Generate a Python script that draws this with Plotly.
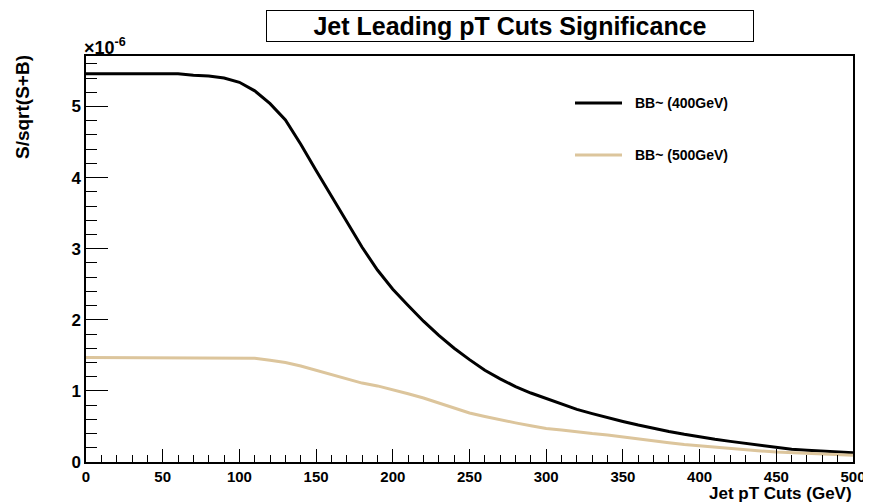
import plotly.graph_objects as go

# Jet pT cut values (GeV)
pt_cuts = [0, 10, 20, 30, 40, 50, 60, 70, 80, 90, 100, 110, 120, 130, 140, 150, 160, 170, 180, 190,
           200, 210, 220, 230, 240, 250, 260, 270, 280, 290, 300, 310, 320, 330, 340, 350, 360, 370,
           380, 390, 400, 410, 420, 430, 440, 450, 460, 470, 480, 490, 500]

# Significance S/sqrt(S+B) in units of 1e-6
sig_400 = [5.46, 5.46, 5.46, 5.46, 5.46, 5.46, 5.46, 5.44, 5.43, 5.40, 5.34, 5.22, 5.04, 4.81, 4.47,
           4.10, 3.74, 3.38, 3.02, 2.70, 2.43, 2.20, 1.98, 1.78, 1.60, 1.44, 1.29, 1.17, 1.06, 0.97,
           0.89, 0.81, 0.74, 0.68, 0.62, 0.57, 0.52, 0.47, 0.43, 0.39, 0.35, 0.32, 0.29, 0.26, 0.23,
           0.20, 0.18, 0.165, 0.15, 0.14, 0.13]
sig_500 = [1.47, 1.47, 1.47, 1.47, 1.47, 1.47, 1.47, 1.47, 1.47, 1.47, 1.47, 1.46, 1.43, 1.40, 1.35,
           1.29, 1.23, 1.17, 1.11, 1.07, 1.02, 0.96, 0.90, 0.83, 0.76, 0.69, 0.64, 0.59, 0.55, 0.51,
           0.47, 0.45, 0.42, 0.40, 0.38, 0.35, 0.32, 0.29, 0.27, 0.245, 0.225, 0.205, 0.19, 0.17,
           0.155, 0.14, 0.13, 0.12, 0.11, 0.10, 0.094]

series_names = ["BB~ (400GeV)", "BB~ (500GeV)"]
series_colors = ["#000000", "#dcc59c"]

x_ticks = [0, 50, 100, 150, 200, 250, 300, 350, 400, 450, 500]
y_ticks = [0, 1, 2, 3, 4, 5]

FONT = "Liberation Sans, Arial, sans-serif"
scale = 1e-6

# page body has an 8px margin, so the figure is shrunk and shifted to compensate
OFF = 8
W, H = 871 - OFF, 504 - OFF
ML, MR, MT, MB = 86 - OFF, 18, 56 - OFF, 42
PW, PH = W - ML - MR, H - MT - MB


def px_x(xpx):
    return (xpx - 86) / PW


def px_y(ypx):
    return (462 - ypx) / PH


fig = go.Figure()
for vals, name, col in zip([sig_400, sig_500], series_names, series_colors):
    fig.add_trace(go.Scatter(
        x=pt_cuts, y=[v * scale for v in vals], mode="lines", name=name,
        line=dict(color=col, width=3),
        showlegend=False,
    ))

fig.update_layout(
    width=W, height=H,
    margin=dict(l=ML, r=MR, t=MT, b=MB, autoexpand=False),
    paper_bgcolor="white", plot_bgcolor="white",
    font=dict(family=FONT, color="black"),
    xaxis=dict(
        range=[0, 500], tickvals=x_ticks, ticktext=[str(t) for t in x_ticks],
        ticks="inside", ticklen=13, tickwidth=1, tickcolor="black",
        minor=dict(dtick=10, ticks="inside", ticklen=7, tickwidth=1, tickcolor="black"),
        showline=True, linecolor="black", linewidth=1.5, mirror=True,
        showgrid=False, zeroline=False, automargin=False,
        tickfont=dict(family=FONT, size=15, weight="bold"),
    ),
    yaxis=dict(
        range=[0, 5.71e-6], tickvals=[t * scale for t in y_ticks], ticktext=[str(t) for t in y_ticks],
        ticks="inside", ticklen=22, tickwidth=1, tickcolor="black",
        minor=dict(dtick=0.2e-6, ticks="inside", ticklen=11, tickwidth=1, tickcolor="black"),
        showline=True, linecolor="black", linewidth=1.5, mirror=True,
        showgrid=False, zeroline=False, automargin=False,
        tickfont=dict(family=FONT, size=17, weight="bold"),
    ),
)

annotations = [
    # title box
    dict(text="<b>Jet Leading pT Cuts Significance</b>", xref="paper", yref="paper",
         x=px_x(510), y=px_y(26), xanchor="center", yanchor="middle",
         showarrow=False, font=dict(family=FONT, size=25, color="black"),
         bordercolor="black", borderwidth=1, width=486, height=30, borderpad=0, bgcolor="white"),
    # exponent
    dict(text="<b>×10<sup>-6</sup></b>", xref="paper", yref="paper",
         x=px_x(82), y=1.0, xanchor="left", yanchor="bottom", yshift=-4,
         showarrow=False, font=dict(family=FONT, size=18, color="black")),
    # axis titles
    dict(text="<b>Jet pT Cuts (GeV)</b>", xref="paper", yref="paper",
         x=1.0, y=0, xanchor="right", yanchor="top", yshift=-21, borderpad=0,
         showarrow=False, font=dict(family=FONT, size=17, color="black")),
    dict(text="<b>S/sqrt(S+B)</b>", xref="paper", yref="paper",
         x=px_x(22), y=px_y(107), xanchor="center", yanchor="middle", textangle=-90,
         showarrow=False, font=dict(family=FONT, size=19, color="black")),
]

# legend (drawn manually, ROOT TLegend style)
legend_y_px = [103, 155]
for ypx, name, col in zip(legend_y_px, series_names, series_colors):
    yp = px_y(ypx)
    fig.add_shape(type="line", xref="paper", yref="paper",
                  x0=px_x(575), x1=px_x(622), y0=yp, y1=yp,
                  line=dict(color=col, width=3))
    annotations.append(dict(text="<b>" + name + "</b>", xref="paper", yref="paper",
                            x=px_x(633), y=yp, xanchor="left", yanchor="middle",
                            showarrow=False, font=dict(family=FONT, size=14, color="black")))

fig.update_layout(annotations=annotations)
fig.write_html("out.html")
